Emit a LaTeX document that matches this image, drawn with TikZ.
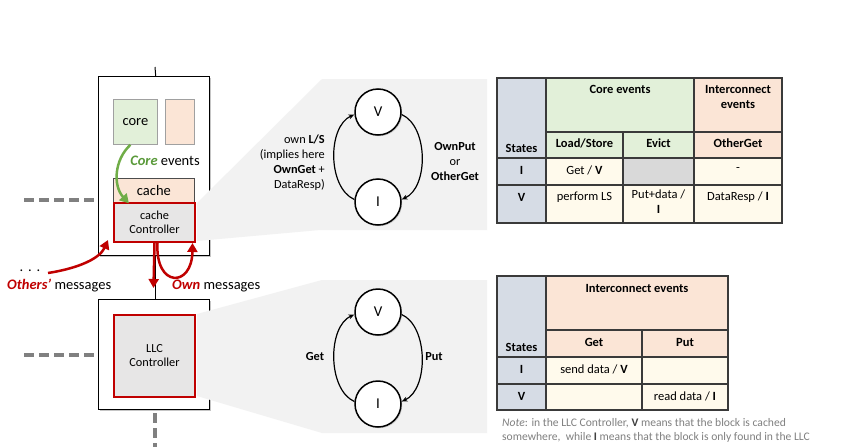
\documentclass[tikz,border=0pt]{standalone}
\usepackage{fontspec}
\setmainfont{Carlito}
\usetikzlibrary{arrows.meta,shadows}
\definecolor{myred}{HTML}{C00000}
\definecolor{ctrlgray}{HTML}{E7E6E6}
\definecolor{coregreen}{HTML}{E2F0D9}
\definecolor{peach}{HTML}{FBE5D6}
\definecolor{arrgreen}{HTML}{70AD47}
\definecolor{txtgreen}{HTML}{5A9A3A}
\definecolor{dashgray}{HTML}{808080}
\definecolor{polygray}{HTML}{F2F2F2}
\definecolor{statecol}{HTML}{D6DCE5}
\definecolor{cream}{HTML}{FFFAEC}
\definecolor{evictgray}{HTML}{D9D9D9}
\definecolor{tblline}{HTML}{3A3A3A}
\definecolor{notegray}{HTML}{808080}
\definecolor{thinline}{HTML}{A0A0A0}
\newcommand\szA{\fontsize{14.5}{17}\selectfont}
\newcommand\szB{\fontsize{12.3}{15}\selectfont}
\newcommand\szT{\fontsize{12.5}{15}\selectfont}
\newcommand\szN{\fontsize{11.6}{14}\selectfont}
\newcommand\szS{\fontsize{15}{17}\selectfont}
\begin{document}
\begin{tikzpicture}[x=1pt,y=-1pt,
  outerbox/.style={draw=black, line width=1.4pt, fill=white, inner sep=0pt, anchor=north west,
     drop shadow={shadow xshift=1.5pt, shadow yshift=-1.5pt, opacity=0.45}},
  plainbox/.style={draw=thinline, line width=0.8pt, inner sep=0pt, anchor=north west},
  ctrlbox/.style={draw=myred, line width=2pt, fill=ctrlgray, inner sep=0pt, anchor=north west, align=center, font=\szB},
  state/.style={circle, draw=black, line width=1.5pt, fill=white, minimum size=46pt, inner sep=0pt, font=\szS,
     drop shadow={shadow xshift=1.2pt, shadow yshift=-1.2pt, opacity=0.35}},
  trans/.style={-{Stealth[length=6pt,width=5pt]}, line width=1.2pt},
  redarr/.style={draw=myred, line width=2.5pt, -{Triangle[length=9pt,width=10pt]}},
  greenarr/.style={draw=arrgreen, line width=2.5pt, -{Triangle[length=9pt,width=10pt]}},
  dashline/.style={draw=dashgray, line width=3.5pt, dash pattern=on 10pt off 5pt},
  tline/.style={draw=tblline, line width=1.2pt},
  ttxt/.style={font=\szT, inner sep=0pt, align=center},
]
\useasboundingbox (0,0) rectangle (861,447);
\fill[white] (0,0) rectangle (861,447);

% --- left blocks ---
\node[outerbox, minimum width=111pt, minimum height=179pt] (topbox) at (98,76) {};
\node[outerbox, minimum width=111pt, minimum height=110pt] (llcbox) at (98,299) {};

% connections of the blocks
\coordinate (toptip) at (155,67);
\draw[line width=1pt] (toptip) -- ([xshift=1.5pt]topbox.north);
\draw[line width=1pt] ([xshift=1.5pt]topbox.south) -- ([xshift=1.5pt]llcbox.north);
\coordinate (dashL1) at (24,200);
\coordinate (dashL2) at (24,355);
\coordinate (dashB) at (155,447);
\coordinate (dashBtop) at (155,413);
\draw[dashline] (dashL1) -- (topbox.west |- dashL1);
\draw[dashline] (dashL2) -- (llcbox.west |- dashL2);
\draw[dashline] (dashBtop) -- (dashB);

% --- zoom projections ---
\fill[polygray] (197,203) -- (322,79) -- (487,79) -- (487,230) -- (320,230) -- (197,241) -- cycle;
\fill[polygray] (197,314) -- (322,280) -- (487,280) -- (487,433) -- (322,433) -- (197,396) -- cycle;

% --- inner boxes ---
\node[plainbox, fill=coregreen, minimum width=44pt, minimum height=45pt, font=\szA] (core) at (113,99) {core};
\node[plainbox, fill=peach, minimum width=29pt, minimum height=45pt] (extra) at (165,99) {};
\node[plainbox, draw=black!70, fill=peach, minimum width=81pt, minimum height=24pt, font=\szA] (cache) at (113,178) {cache};
\node[ctrlbox, minimum width=81pt, minimum height=39pt] (ctrl) at (113,202) {cache\\[-1pt]Controller};
\node[ctrlbox, minimum width=81pt, minimum height=82pt] (llcctrl) at (113,314) {LLC\\[-1pt]Controller};

% core events arrow
\draw[greenarr] ([xshift=-5pt]core.south) .. controls (114,160) and (113,186) .. ([xshift=-25pt,yshift=-0.5pt]cache.south);
\node[font=\szA, inner sep=0pt] (coreev) at (165,161) {\textcolor{txtgreen}{\textbf{\textit{Core}}} events};

% red message arrows
\coordinate (othersStart) at (48,273);
\coordinate (othersEnd) at (108,240);
\draw[redarr] (othersStart) .. controls (80,268) and (100,258) .. (othersEnd);
\coordinate (downEnd) at (153.5,288);
\draw[redarr] (ctrl.south) -- (downEnd);
\draw[redarr] ([xshift=3pt]ctrl.south) .. controls (155,288) and (192,288) .. ([xshift=38pt]ctrl.south);

\node[font=\szA, inner sep=0pt, anchor=base] (dots) at (30,271) {.\,\,.\,\,.};
\node[font=\szA, inner sep=0pt, anchor=base west] (othersTxt) at (7,289) {\textcolor{myred}{\textbf{\textit{Others'}}} messages};
\node[font=\szA, inner sep=0pt, anchor=base west] (ownTxt) at (172,289) {\textcolor{myred}{\textbf{\textit{Own}}} messages};

% --- state diagrams ---
\node[state] (V1) at (378,112) {V};
\node[state] (I1) at (378,202) {I};
\draw[trans] (I1.174) .. controls +(-27,-12) and +(-27,12) .. (V1.186);
\draw[trans] (V1.354) .. controls +(27,12) and +(27,-12) .. (I1.6);
\node[font=\szB, align=right, anchor=east, inner sep=0pt] (lab1) at (325,163) {own \textbf{L/S}\\(implies here\\\textbf{OwnGet} +\\DataResp)};
\node[font=\szB, align=center, inner sep=0pt] (lab2) at (455,162) {\textbf{OwnPut}\\or\\\textbf{OtherGet}};

\node[state] (V2) at (378,312) {V};
\node[state] (I2) at (378,404) {I};
\draw[trans] (I2.174) .. controls +(-27,-12) and +(-27,12) .. (V2.186);
\draw[trans] (V2.354) .. controls +(27,12) and +(27,-12) .. (I2.6);
\node[font=\szB, inner sep=0pt] (lab3) at (315,357) {\textbf{Get}};
\node[font=\szB, inner sep=0pt] (lab4) at (434,357) {\textbf{Put}};

% --- table 1 ---
\fill[statecol] (497,78) rectangle (546,223);
\fill[coregreen] (546,78) rectangle (694,158);
\fill[peach] (694,78) rectangle (782,158);
\fill[cream] (546,158) rectangle (782,223);
\fill[evictgray] (623,158) rectangle (694,185);
\draw[tline] (497,78) rectangle (782,223);
\draw[tline] (546,78) -- (546,223);
\draw[tline] (694,78) -- (694,223);
\draw[tline] (623,132) -- (623,223);
\draw[tline] (546,132) -- (782,132);
\draw[tline] (497,158) -- (782,158);
\draw[tline] (497,185) -- (782,185);
\node[ttxt] (t1a) at (620,89) {\textbf{Core events}};
\node[ttxt] (t1b) at (738,96.5) {\textbf{Interconnect}\\\textbf{events}};
\node[ttxt] (t1c) at (521.5,148) {\textbf{States}};
\node[ttxt] (t1d) at (584.5,143) {\textbf{Load/Store}};
\node[ttxt] (t1e) at (658.5,143) {\textbf{Evict}};
\node[ttxt] (t1f) at (738,143) {\textbf{OtherGet}};
\node[ttxt] (t1g) at (521.5,170) {\textbf{I}};
\node[ttxt] (t1h) at (584.5,170) {Get / \textbf{V}};
\node[ttxt] (t1i) at (738,170) {-};
\node[ttxt] (t1j) at (521.5,197) {\textbf{V}};
\node[ttxt] (t1k) at (584.5,197) {perform LS};
\node[ttxt, anchor=north] (t1l) at (658.5,190) {Put+data /\\\textbf{I}};
\node[ttxt] (t1m) at (738,197) {DataResp / \textbf{I}};

% --- table 2 ---
\fill[statecol] (497,276) rectangle (546,410);
\fill[peach] (546,276) rectangle (728,357);
\fill[cream] (546,357) rectangle (728,410);
\draw[tline] (497,276) rectangle (728,410);
\draw[tline] (546,276) -- (546,410);
\draw[tline] (642,330) -- (642,410);
\draw[tline] (546,330) -- (728,330);
\draw[tline] (497,357) -- (728,357);
\draw[tline] (497,384) -- (728,384);
\node[ttxt] (t2a) at (637,288) {\textbf{Interconnect events}};
\node[ttxt] (t2b) at (521.5,347) {\textbf{States}};
\node[ttxt] (t2c) at (594,342) {\textbf{Get}};
\node[ttxt] (t2d) at (685,342) {\textbf{Put}};
\node[ttxt] (t2e) at (521.5,369) {\textbf{I}};
\node[ttxt] (t2f) at (594,369) {send data / \textbf{V}};
\node[ttxt] (t2g) at (521.5,396) {\textbf{V}};
\node[ttxt] (t2h) at (685,396) {read data / \textbf{I}};

\node[font=\szN, text=notegray, anchor=base west, inner sep=0pt, align=left] (note) at (502,440.5)
  {\textit{Note}: in the LLC Controller, \textcolor{black!75}{\textbf{V}} means that the block is cached\\somewhere,\ \ while \textcolor{black!75}{\textbf{I}} means that the block is only found in the LLC};
\end{tikzpicture}
\end{document}
